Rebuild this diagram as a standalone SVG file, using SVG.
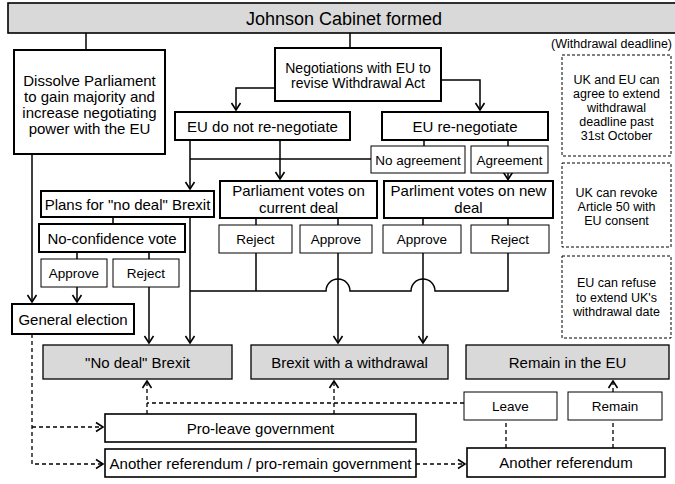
<svg xmlns="http://www.w3.org/2000/svg" width="675" height="484" viewBox="0 0 675 484">
<defs>
<marker id="ah" viewBox="-9 -6 11 12" markerWidth="11" markerHeight="12" refX="0" refY="0" orient="auto" markerUnits="userSpaceOnUse">
<path d="M-7,-4.5 L0,0 L-7,4.5" fill="none" stroke="#000" stroke-width="1.6" stroke-dasharray="none"/>
</marker>
</defs>
<style>
text{font-family:"Liberation Sans",Arial,sans-serif;fill:#000;text-anchor:middle}
.b{fill:#fff;stroke:#000;stroke-width:2}
.s{fill:#fff;stroke:#000;stroke-width:1}
.g{fill:#d9d9d9;stroke:#000;stroke-width:1.3}
.m{fill:#fff;stroke:#000;stroke-width:1.6}
.d{fill:#fff;stroke:#000;stroke-width:1;stroke-dasharray:3,2}
.f15{font-size:15px}
.f14{font-size:14px}
.f13{font-size:13.5px}
.f12{font-size:12.5px}
.c{fill:none;stroke:#000;stroke-width:1.5}
.dc{fill:none;stroke:#000;stroke-width:1.3;stroke-dasharray:4,3}
</style>
<g id="connectors">
<path class="c" d="M86,33 V50"/>
<path class="c" d="M350,33 V48"/>
<path class="c" d="M275,88 H236 V110" marker-end="url(#ah)"/>
<path class="c" d="M441,80 H480 V110" marker-end="url(#ah)"/>
<path class="c" d="M190,140 V189" marker-end="url(#ah)"/>
<path class="c" d="M280,140 V179" marker-end="url(#ah)"/>
<path class="c" d="M190,159 H371"/>
<path class="c" d="M424,140 V146"/>
<path class="c" d="M508,140 V146"/>
<path class="c" d="M508,173 V179.5" marker-end="url(#ah)"/>
<path class="c" d="M113,217 V224"/>
<path class="c" d="M77,252 V259"/>
<path class="c" d="M149,252 V259"/>
<path class="c" d="M256,218 V225"/>
<path class="c" d="M338,218 V225"/>
<path class="c" d="M423,218 V225"/>
<path class="c" d="M508,218 V225"/>
<path class="c" d="M32,154 V302" marker-end="url(#ah)"/>
<path class="c" d="M77,287 V302" marker-end="url(#ah)"/>
<path class="c" d="M149,287 V343" marker-end="url(#ah)"/>
<path class="c" d="M190,217 V343" marker-end="url(#ah)"/>
<path class="c" d="M256,253 V291"/>
<path class="c" d="M190,291 H326 A12,12 0 0 1 350,291 H411 A12,12 0 0 1 435,291 H508 V253"/>
<path class="c" d="M338,253 V343" marker-end="url(#ah)"/>
<path class="c" d="M423,253 V343" marker-end="url(#ah)"/>
<path class="dc" d="M32,334 V464 H103" marker-end="url(#ah)"/>
<path class="dc" d="M32,427 H103" marker-end="url(#ah)"/>
<path class="dc" d="M147,414 V381" marker-end="url(#ah)"/>
<path class="dc" d="M334,414 V381" marker-end="url(#ah)"/>
<path class="dc" d="M464,403 H147"/>
<path class="dc" d="M613,392 V381" marker-end="url(#ah)"/>
<path class="dc" d="M506,448 V420"/>
<path class="dc" d="M613,448 V420"/>
<path class="dc" d="M416,464 H465" marker-end="url(#ah)"/>
</g>
<g id="title"><rect x="8" y="3" width="672" height="30" fill="#d9d9d9" stroke="#000" stroke-width="1.6"/><text x="344" y="24.5" style="font-size:18px">Johnson Cabinet formed</text></g>
<g id="dissolve"><rect class="b" x="14" y="50" width="151" height="104"/><text class="f15" x="89.5" y="85.5">Dissolve Parliament</text><text class="f15" x="89.5" y="101.5">to gain majority and</text><text class="f15" x="89.5" y="117.5">increase negotiating</text><text class="f15" x="89.5" y="133.5">power with the EU</text></g>
<g id="negotiations"><rect class="b" x="275" y="48" width="166" height="53"/><text class="f14" x="358" y="73">Negotiations with EU to</text><text class="f14" x="358" y="88">revise Withdrawal Act</text></g>
<g id="eu-no"><rect class="b" x="175" y="112" width="175" height="28"/><text class="f15" x="262.5" y="131.5">EU do not re-negotiate</text></g>
<g id="eu-re"><rect class="b" x="382" y="112" width="166" height="28"/><text class="f15" x="465" y="131.5">EU re-negotiate</text></g>
<g id="no-agreement"><rect class="s" x="371" y="146" width="94" height="27"/><text class="f13" x="418" y="164.5">No agreement</text></g>
<g id="agreement"><rect class="s" x="471" y="146" width="77" height="27"/><text class="f13" x="509.5" y="164.5">Agreement</text></g>
<g id="plans"><rect class="b" x="41" y="191" width="173" height="26"/><text class="f15" x="127.5" y="209.5">Plans for "no deal" Brexit</text></g>
<g id="parl-current"><rect class="b" x="220" y="181" width="157" height="37"/><text class="f15" x="298.5" y="196">Parliament votes on</text><text class="f15" x="298.5" y="212.5">current deal</text></g>
<g id="parl-new"><rect class="b" x="384" y="181" width="169" height="37"/><text class="f15" x="468.5" y="196">Parliment votes on new</text><text class="f15" x="468.5" y="212.5">deal</text></g>
<g id="no-confidence"><rect class="b" x="39" y="224" width="146" height="28"/><text class="f15" x="112" y="243.5">No-confidence vote</text></g>
<g id="reject-current"><rect class="s" x="219" y="225" width="73" height="28"/><text class="f13" x="255.5" y="244">Reject</text></g>
<g id="approve-current"><rect class="s" x="300" y="225" width="72" height="28"/><text class="f13" x="336" y="244">Approve</text></g>
<g id="approve-new"><rect class="s" x="383" y="225" width="78" height="28"/><text class="f13" x="422" y="244">Approve</text></g>
<g id="reject-new"><rect class="s" x="471" y="225" width="78" height="28"/><text class="f13" x="510" y="244">Reject</text></g>
<g id="approve-nc"><rect class="s" x="41" y="259" width="66" height="28"/><text class="f13" x="74" y="278">Approve</text></g>
<g id="reject-nc"><rect class="s" x="113" y="259" width="66" height="28"/><text class="f13" x="146" y="278">Reject</text></g>
<g id="general-election"><rect class="b" x="12" y="304" width="122" height="30"/><text class="f15" x="73" y="324.5">General election</text></g>
<g id="no-deal"><rect class="g" x="43" y="345" width="189" height="34"/><text class="f15" x="137.5" y="367.5">"No deal" Brexit</text></g>
<g id="withdrawal"><rect class="g" x="251" y="345" width="197" height="34"/><text class="f15" x="349.5" y="367.5">Brexit with a withdrawal</text></g>
<g id="remain-eu"><rect class="g" x="466" y="345" width="203" height="34"/><text class="f15" x="567.5" y="367.5">Remain in the EU</text></g>
<g id="leave"><rect class="s" x="464" y="392" width="93" height="28"/><text class="f13" x="510.5" y="411">Leave</text></g>
<g id="remain"><rect class="s" x="568" y="392" width="94" height="28"/><text class="f13" x="615" y="411">Remain</text></g>
<g id="pro-leave"><rect class="m" x="105" y="414" width="311" height="28"/><text class="f15" x="260.5" y="433.5">Pro-leave government</text></g>
<g id="pro-remain"><rect class="m" x="105" y="449" width="311" height="28"/><text class="f15" x="260.5" y="468.5">Another referendum / pro-remain government</text></g>
<g id="another-referendum"><rect class="m" x="467" y="448" width="198" height="29"/><text class="f15" x="566" y="468">Another referendum</text></g>
<g id="deadline-label"><text class="f12" x="672" y="48" style="text-anchor:end">(Withdrawal deadline)</text></g>
<g id="extend"><rect class="d" x="562" y="55" width="109" height="101"/><text class="f12" x="616.5" y="83.5">UK and EU can</text><text class="f12" x="616.5" y="97.5">agree to extend</text><text class="f12" x="616.5" y="111.5">withdrawal</text><text class="f12" x="616.5" y="125.5">deadline past</text><text class="f12" x="616.5" y="139.5">31st October</text></g>
<g id="revoke"><rect class="d" x="562" y="163" width="109" height="84"/><text class="f12" x="616.5" y="196.5">UK can revoke</text><text class="f12" x="616.5" y="210.5">Article 50 with</text><text class="f12" x="616.5" y="224.5">EU consent</text></g>
<g id="refuse"><rect class="d" x="562" y="256" width="109" height="82"/><text class="f12" x="616.5" y="287">EU can refuse</text><text class="f12" x="616.5" y="301.5">to extend UK's</text><text class="f12" x="616.5" y="316">withdrawal date</text></g>
</svg>
